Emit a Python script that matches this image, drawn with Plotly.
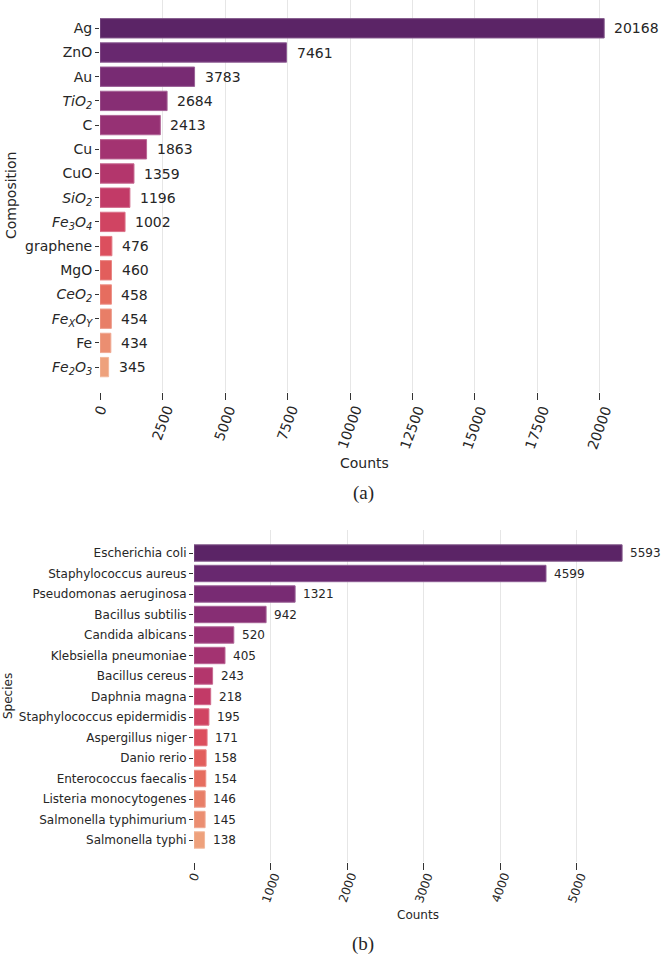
import plotly.graph_objects as go

# ---------------- data ----------------
compositions = ["Ag", "ZnO", "Au", "<i>TiO<sub>2</sub></i>", "C", "Cu", "CuO",
                "<i>SiO<sub>2</sub></i>", "<i>Fe<sub>3</sub>O<sub>4</sub></i>", "graphene",
                "MgO", "<i>CeO<sub>2</sub></i>", "<i>Fe<sub>X</sub>O<sub>Y</sub></i>", "Fe",
                "<i>Fe<sub>2</sub>O<sub>3</sub></i>"]
composition_counts = [20168, 7461, 3783, 2684, 2413, 1863, 1359, 1196, 1002, 476, 460, 458, 454, 434, 345]

species = ["Escherichia coli", "Staphylococcus aureus", "Pseudomonas aeruginosa", "Bacillus subtilis",
           "Candida albicans", "Klebsiella pneumoniae", "Bacillus cereus", "Daphnia magna",
           "Staphylococcus epidermidis", "Aspergillus niger", "Danio rerio", "Enterococcus faecalis",
           "Listeria monocytogenes", "Salmonella typhimurium", "Salmonella typhi"]
species_counts = [5593, 4599, 1321, 942, 520, 405, 243, 218, 195, 171, 158, 154, 146, 145, 138]

xticks_a = [0, 2500, 5000, 7500, 10000, 12500, 15000, 17500, 20000]
xticks_b = [0, 1000, 2000, 3000, 4000, 5000]

# ---------------- style ----------------
palette = ["#5b2466", "#68286f", "#782b73", "#872e74", "#963174", "#a33371", "#b3366c",
           "#c23a67", "#d04462", "#dc4f5e", "#e25e5c", "#e66d5f", "#e87e67", "#eb8e71", "#eea17c"]
FONT = "DejaVu Sans"
TXT = "#262626"
W, H = 661, 957


def px(x):
    return x / W


def py(y):
    return 1 - y / H


def lighten(c, f=0.25):
    r, g, b = int(c[1:3], 16), int(c[3:5], 16), int(c[5:7], 16)
    r, g, b = [int(v + (255 - v) * f) for v in (r, g, b)]
    return f"rgb({r},{g},{b})"


# panel geometry (pixels)
A_L, A_R, A_T, A_B = 100, 629.4, 0, 392
B_L, B_R, B_T, B_B = 194, 643.5, 530, 862

fig = go.Figure()
fig.add_trace(go.Bar(x=composition_counts, y=compositions, orientation="h",
                     marker=dict(color=palette, line=dict(color=[lighten(c) for c in palette], width=1)),
                     width=0.8, xaxis="x", yaxis="y", showlegend=False, hoverinfo="skip"))
fig.add_trace(go.Bar(x=species_counts, y=species, orientation="h",
                     marker=dict(color=palette, line=dict(color=[lighten(c) for c in palette], width=1)),
                     width=0.8, xaxis="x2", yaxis="y2", showlegend=False, hoverinfo="skip"))

ann = []
# value labels
for v, c in zip(composition_counts, compositions):
    ann.append(dict(x=v, y=c, xref="x", yref="y", text=str(v), showarrow=False,
                    xanchor="left", yanchor="middle", xshift=8,
                    font=dict(family=FONT, size=14, color=TXT)))
for v, c in zip(species_counts, species):
    ann.append(dict(x=v, y=c, xref="x2", yref="y2", text=str(v), showarrow=False,
                    xanchor="left", yanchor="middle", xshift=6,
                    font=dict(family=FONT, size=12, color=TXT)))
# rotated x tick labels (centred under ticks)
for t in xticks_a:
    ann.append(dict(x=t, y=py(401), xref="x", yref="paper", text=str(t), showarrow=False,
                    xanchor="center", yanchor="top", textangle=-70,
                    font=dict(family=FONT, size=14, color=TXT)))
for t in xticks_b:
    ann.append(dict(x=t, y=py(868), xref="x2", yref="paper", text=str(t), showarrow=False,
                    xanchor="center", yanchor="top", textangle=-70,
                    font=dict(family=FONT, size=12, color=TXT)))
# axis titles and captions
ann += [
    dict(x=px(364), y=py(463), xref="paper", yref="paper", text="Counts", showarrow=False,
         xanchor="center", yanchor="middle", font=dict(family=FONT, size=14, color=TXT)),
    dict(x=px(11), y=py(196), xref="paper", yref="paper", text="Composition", showarrow=False,
         xanchor="center", yanchor="middle", textangle=-90, font=dict(family=FONT, size=14, color=TXT)),
    dict(x=px(363), y=py(493), xref="paper", yref="paper", text="(a)", showarrow=False,
         xanchor="center", yanchor="middle", font=dict(family="Liberation Serif", size=19, color=TXT)),
    dict(x=px(418), y=py(915), xref="paper", yref="paper", text="Counts", showarrow=False,
         xanchor="center", yanchor="middle", font=dict(family=FONT, size=12, color=TXT)),
    dict(x=px(8), y=py(696), xref="paper", yref="paper", text="Species", showarrow=False,
         xanchor="center", yanchor="middle", textangle=-90, font=dict(family=FONT, size=12, color=TXT)),
    dict(x=px(363), y=py(944), xref="paper", yref="paper", text="(b)", showarrow=False,
         xanchor="center", yanchor="middle", font=dict(family="Liberation Serif", size=19, color=TXT)),
]

xcommon = dict(showgrid=True, gridcolor="#e6e6e6", gridwidth=1, zeroline=False, showline=False,
               ticks="outside", ticklen=7, tickwidth=1, tickcolor="#333333", showticklabels=False,
               tickmode="array", fixedrange=True)
ycommon = dict(showgrid=False, zeroline=False, showline=False, ticks="outside", ticklen=4,
               tickwidth=1, tickcolor="#333333", type="category", fixedrange=True)

a_span = (A_B - A_T) / 24.2
a_top = -(28.3 - A_T) / 24.2
b_span = (B_B - B_T) / 20.5
b_top = -(553 - B_T) / 20.5

fig.update_layout(
    width=W, height=H, margin=dict(l=0, r=0, t=0, b=0),
    paper_bgcolor="white", plot_bgcolor="white",
    font=dict(family=FONT, color=TXT),
    bargap=0.2,
    xaxis=dict(**xcommon, domain=[px(A_L), px(A_R)], range=[0, max(composition_counts) * 1.05],
               tickvals=xticks_a, anchor="y"),
    yaxis=dict(**ycommon, domain=[py(A_B), py(A_T)], range=[a_top + a_span, a_top],
               tickfont=dict(family=FONT, size=14, color=TXT), anchor="x"),
    xaxis2=dict(**xcommon, domain=[px(B_L), px(B_R)], range=[0, max(species_counts) * 1.05],
                tickvals=xticks_b, anchor="y2"),
    yaxis2=dict(**ycommon, domain=[py(B_B), py(B_T)], range=[b_top + b_span, b_top],
                tickfont=dict(family=FONT, size=12, color=TXT), anchor="x2"),
    annotations=ann,
)

fig.write_html("out.html")
